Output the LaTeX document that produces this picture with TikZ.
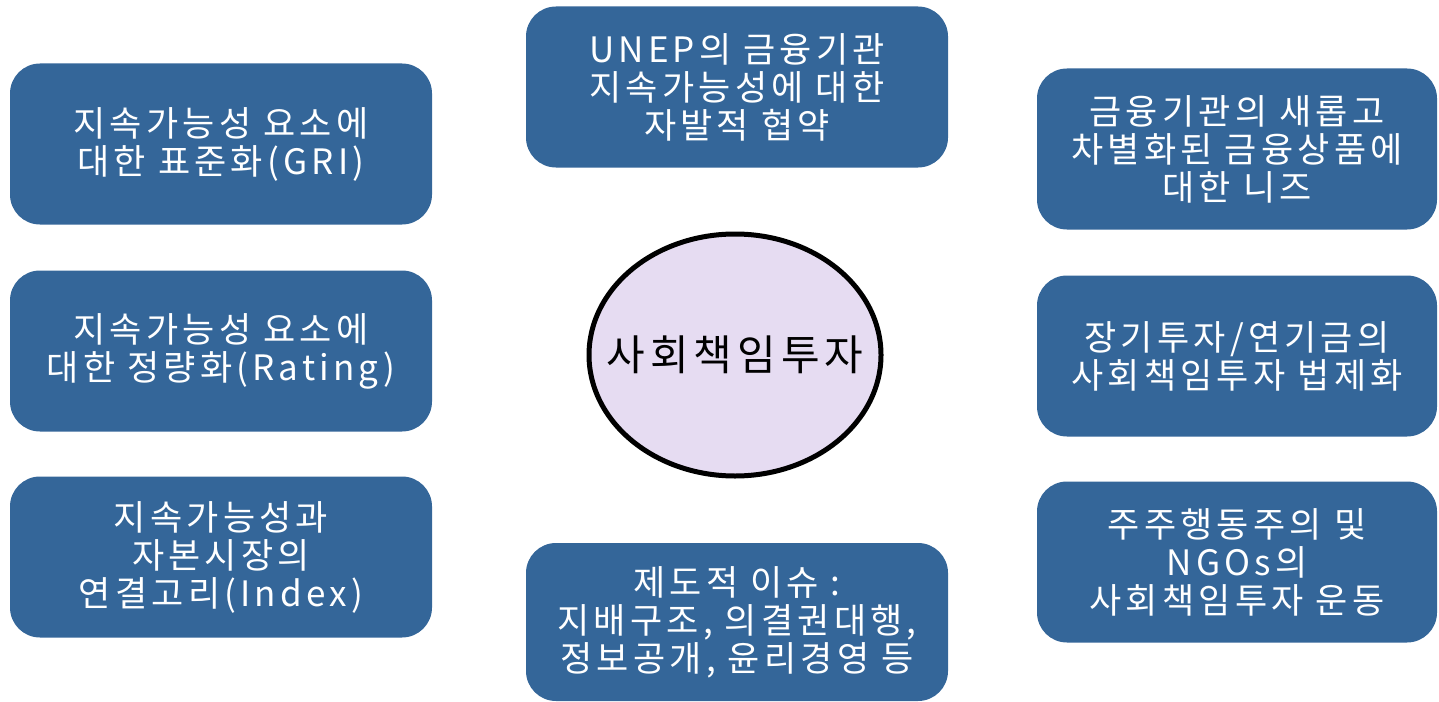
\documentclass[tikz,border=0pt]{standalone}
\usepackage{fontspec}
\setmainfont{Noto Sans CJK KR}[LetterSpace=12]
\usetikzlibrary{shapes.geometric}
\definecolor{boxblue}{HTML}{346699}
\definecolor{lavender}{HTML}{E6DCF2}
\begin{document}
\begin{tikzpicture}[x=0.5pt,y=-0.5pt,
  issue/.style={fill=boxblue,rounded corners=15pt,minimum width=211pt,minimum height=80.5pt,
    text=white,align=center,inner sep=0pt,font=\fontsize{17.5}{19}\selectfont},
  wideissue/.style={issue,minimum width=200pt},
  core/.style={ellipse,draw=black,line width=2.5pt,fill=lavender,minimum width=146pt,
    minimum height=121pt,inner sep=0pt,
    label={[font=\fontsize{21}{24}\selectfont]center:#1}}]
\useasboundingbox (0,0) rectangle (1439,701);
% centre
\node[core=사회책임투자] (sri) at (735,355) {};
% left column
\node[issue] (gri) at (221,144) {지속가능성 요소에\\대한 표준화(GRI)};
\node[issue] (rating) at (221,351) {지속가능성 요소에\\대한 정량화(Rating)};
\node[issue] (index) at (221,557) {지속가능성과\\자본시장의\\연결고리(Index)};
% middle column
\node[issue] (unep) at (737,87) {UNEP의 금융기관\\지속가능성에 대한\\자발적 협약};
\node[issue,minimum height=79pt] (inst) at (737,622) {제도적 이슈 :\\지배구조, 의결권대행,\\정보공개, 윤리경영 등};
% right column
\node[wideissue] (needs) at (1237,149) {금융기관의 새롭고\\차별화된 금융상품에\\대한 니즈};
\node[wideissue] (law) at (1237,356) {장기투자/연기금의\\사회책임투자 법제화};
\node[wideissue] (ngo) at (1237,562) {주주행동주의 및\\NGOs의\\사회책임투자 운동};
\end{tikzpicture}
\end{document}
